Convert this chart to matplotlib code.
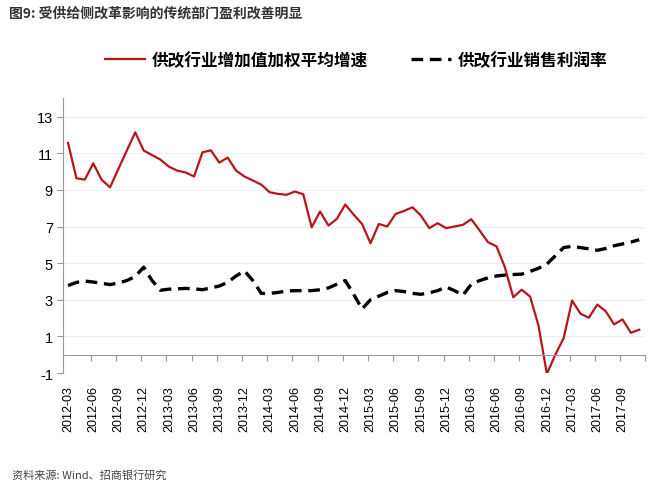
import matplotlib.pyplot as plt
import numpy as np

plt.rcParams['font.family'] = ['Noto Sans CJK SC', 'DejaVu Sans']
plt.rcParams['axes.unicode_minus'] = False

# monthly, 2012-03 .. 2017-11
months = []
for y in range(2012, 2018):
    for m in range(1, 13):
        if (y == 2012 and m < 3) or (y == 2017 and m > 11):
            continue
        months.append("%d-%02d" % (y, m))

growth = [11.56, 9.63, 9.56, 10.45, 9.55, 9.14, 10.15, 11.15, 12.14, 11.15,
          10.9, 10.65, 10.27, 10.05, 9.95, 9.73, 11.05, 11.16, 10.49, 10.76,
          10.05, 9.73, 9.51, 9.29, 8.87, 8.78, 8.73, 8.91, 8.76, 6.96,
          7.82, 7.05, 7.42, 8.2, 7.65, 7.14, 6.09, 7.14, 7.0, 7.69,
          7.85, 8.05, 7.6, 6.91, 7.18, 6.91, 7.0, 7.09, 7.4, 6.78,
          6.14, 5.92, 4.78, 3.14, 3.55, 3.18, 1.6, -1.04, 0.0, 0.91,
          2.96, 2.24, 2.02, 2.74, 2.38, 1.66, 1.93, 1.2, 1.37]

margin = [3.78, 3.95, 4.02, 3.97, 3.9, 3.83, 3.92, 4.05, 4.27, 4.78,
          4.05, 3.52, 3.58, 3.6, 3.62, 3.6, 3.55, 3.65, 3.75, 3.95,
          4.3, 4.58, 4.05, 3.35, 3.35, 3.4, 3.48, 3.5, 3.5, 3.5,
          3.55, 3.65, 3.85, 4.05, 3.3, 2.5, 3.0, 3.2, 3.4, 3.5,
          3.45, 3.35, 3.3, 3.38, 3.5, 3.7, 3.5, 3.25, 3.85, 4.05,
          4.2, 4.3, 4.35, 4.38, 4.4, 4.55, 4.72, 4.95, 5.4, 5.85,
          5.92, 5.85, 5.78, 5.7, 5.8, 5.95, 6.05, 6.15, 6.28]

x = np.arange(len(months))

fig = plt.figure(figsize=(6.53, 4.89), dpi=100)
ax = fig.add_axes([0.097, 0.235, 0.891, 0.562])

ax.plot(x, growth, color='#B8141C', lw=1.6, label='供改行业增加值加权平均增速')
ax.plot(x, margin, color='black', lw=2.4, dashes=(3.5, 2), label='供改行业销售利润率')

ax.set_ylim(-1, 14)
ax.set_xlim(-0.56, 68.4)
ax.set_yticks(range(-1, 14, 2))
ax.set_yticklabels([str(v) for v in range(-1, 14, 2)], family='Liberation Sans', fontsize=10.5)
ax.tick_params(axis='y', length=4, color='#999999', width=0.8)
ax.grid(axis='y', color='#eeeeee', lw=0.8)
ax.set_axisbelow(True)

ax.spines['top'].set_visible(False)
ax.spines['right'].set_visible(False)
ax.spines['left'].set_color('#999999')
ax.spines['bottom'].set_color('#999999')
ax.spines['bottom'].set_position(('data', 0))

ax.set_xticks(x[::3])
ax.set_xticklabels(months[::3], rotation=90, fontsize=9, family='Liberation Sans')
ax.tick_params(axis='x', length=0, pad=22)
ax.set_xticks(x[::3] + 2.7, minor=True)
ax.tick_params(axis='x', which='minor', length=4, color='#999999', width=0.8)

fig.legend(loc='upper left', bbox_to_anchor=(0.138, 0.925), ncol=2, frameon=False,
           prop={'weight': 'bold', 'size': 12}, handlelength=2.4, handletextpad=0.4,
           columnspacing=2.6)

fig.text(0.014, 0.972, '图9: 受供给侧改革影响的传统部门盈利改善明显', fontsize=10,
         weight='bold', color='#333333', va='center')
fig.text(0.018, 0.027, '资料来源: Wind、招商银行研究', fontsize=8, color='#444444', va='center')

fig.savefig('out.png', dpi=100)
